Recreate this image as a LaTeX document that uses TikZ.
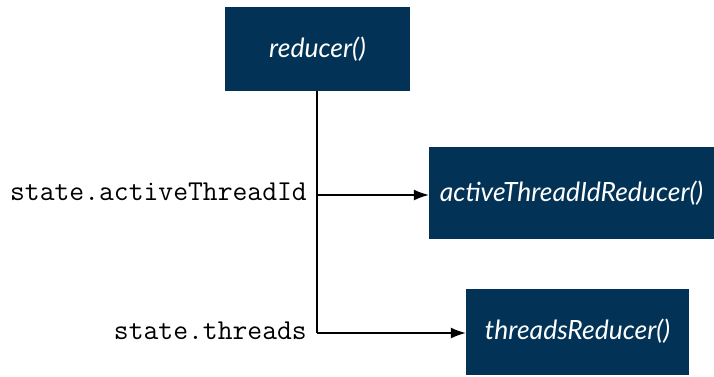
\documentclass[tikz,border=0pt]{standalone}
\usepackage{fontspec}
\newfontfamily\boxfont{Lato}
\usetikzlibrary{arrows.meta}
\definecolor{navy}{RGB}{2, 51, 86}

\begin{document}
\begin{tikzpicture}[x=1pt, y=-1pt]
        \useasboundingbox (0,0) rectangle (714,376);
        % Reducer boxes
        \node[fill=navy, text=white, inner sep=0pt, minimum width=185pt, minimum height=84pt,
            font=\boxfont\itshape\fontsize{26.5}{30}\selectfont] (reducer) at (317.5,49) {reducer()};
        \node[fill=navy, text=white, inner sep=0pt, minimum width=285pt, minimum height=92pt,
            font=\boxfont\itshape\fontsize{26.5}{30}\selectfont] (active) at (571.5,193) {activeThreadIdReducer()};
        \node[fill=navy, text=white, inner sep=0pt, minimum width=223pt, minimum height=86pt,
            font=\boxfont\itshape\fontsize{26.5}{30}\selectfont] (threads) at (577.5,331.5) {threadsReducer()};

        % Branch points on the trunk
        \coordinate (split) at (317,195);
        \coordinate (corner) at (317,333);

        % Trunk and branches
        \draw[line width=1.4pt] (reducer.south -| corner) -- (corner);
        \draw[line width=1.4pt, -{Latex[length=15pt, width=11pt]}] (split) -- (split -| active.west);
        \draw[line width=1.4pt, -{Latex[length=15pt, width=11pt]}] (corner) -- (corner -| threads.west);

        % State labels on the left
        \node[font=\ttfamily\fontsize{28.8}{32}\selectfont, anchor=base east, inner sep=0pt]
            (lblactive) at (307,200) {state.activeThreadId};
        \node[font=\ttfamily\fontsize{28.8}{32}\selectfont, anchor=base east, inner sep=0pt]
            (lblthreads) at (307,339) {state.threads};
    \end{tikzpicture}
\end{document}
